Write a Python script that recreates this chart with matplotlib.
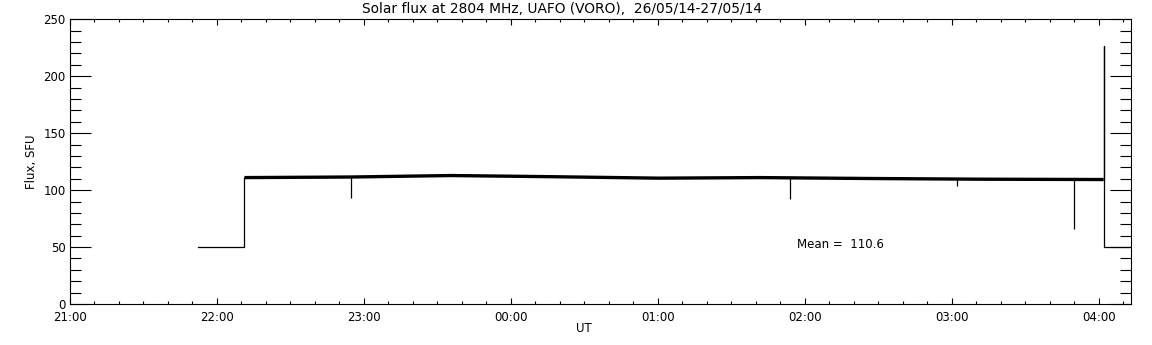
import numpy as np
import matplotlib.pyplot as plt
from matplotlib.ticker import MultipleLocator, FixedLocator, FixedFormatter

# time in hours after 21:00 UT (26/05/14)
t_off = [0.87, 1.186]          # calibration level before start
v_off = [50, 50]
t_base = [1.186, 1.9, 2.59, 3.27, 4.01, 4.69, 5.44, 6.19, 7.032]
v_base = [111.0, 111.5, 112.8, 111.8, 110.5, 111.0, 110.2, 109.6, 109.3]
t_dips = [1.912, 4.90, 6.034, 6.83]
v_dips = [92.7, 91.8, 103.5, 65.5]
t_end = [7.032, 7.032, 7.032, 7.25]
v_end = [109.3, 226.3, 50, 50]

hour_labels = ['21:00', '22:00', '23:00', '00:00', '01:00', '02:00', '03:00', '04:00']
mean_flux = 110.6

plt.rcParams['font.family'] = 'DejaVu Sans'
fig = plt.figure(figsize=(11.52, 3.45), dpi=100)
ax = fig.add_axes([70 / 1152, 41 / 345, 1061 / 1152, 284.7 / 345])

ax.plot(t_off + [t_base[0]], v_off + [v_base[0]], color='black', lw=0.9)
ax.plot(t_base, v_base, color='black', lw=2.4, solid_capstyle='butt')
ax.vlines(t_dips, np.interp(t_dips, t_base, v_base), v_dips, color='black', lw=0.9)
ax.plot(t_end, v_end, color='black', lw=0.9)

ax.set_xlim(0, 7.218)
ax.set_ylim(0, 250)
ax.xaxis.set_major_locator(FixedLocator(range(len(hour_labels))))
ax.xaxis.set_major_formatter(FixedFormatter(hour_labels))
ax.xaxis.set_minor_locator(MultipleLocator(1 / 6))
ax.yaxis.set_major_locator(MultipleLocator(50))
ax.yaxis.set_minor_locator(MultipleLocator(10))

for spine in ax.spines.values():
    spine.set_linewidth(0.8)
ax.tick_params(axis='both', which='both', direction='in', top=True, right=True,
               width=0.8, labelsize=8.5, colors='black')
ax.tick_params(axis='x', which='major', length=4.3, pad=5)
ax.tick_params(axis='x', which='minor', length=2.2)
ax.tick_params(axis='y', which='major', length=14.8, pad=3)
ax.tick_params(axis='y', which='minor', length=7.9)

fig.text(562 / 1152, 1 - 9 / 345, 'Solar flux at 2804 MHz, UAFO (VORO),  26/05/14-27/05/14',
         ha='center', va='center', fontsize=9.9)
fig.text(31 / 1152, 1 - 161.7 / 345, 'Flux, SFU', rotation=90, ha='center', va='center',
         fontsize=8.5)
fig.text(584 / 1152, 1 - 328 / 345, 'UT', ha='center', va='center', fontsize=8.5)
ax.text(4.944, 52.4, 'Mean =  %.1f' % mean_flux, ha='left', va='center', fontsize=8.5)

fig.savefig('out.png', dpi=100)
